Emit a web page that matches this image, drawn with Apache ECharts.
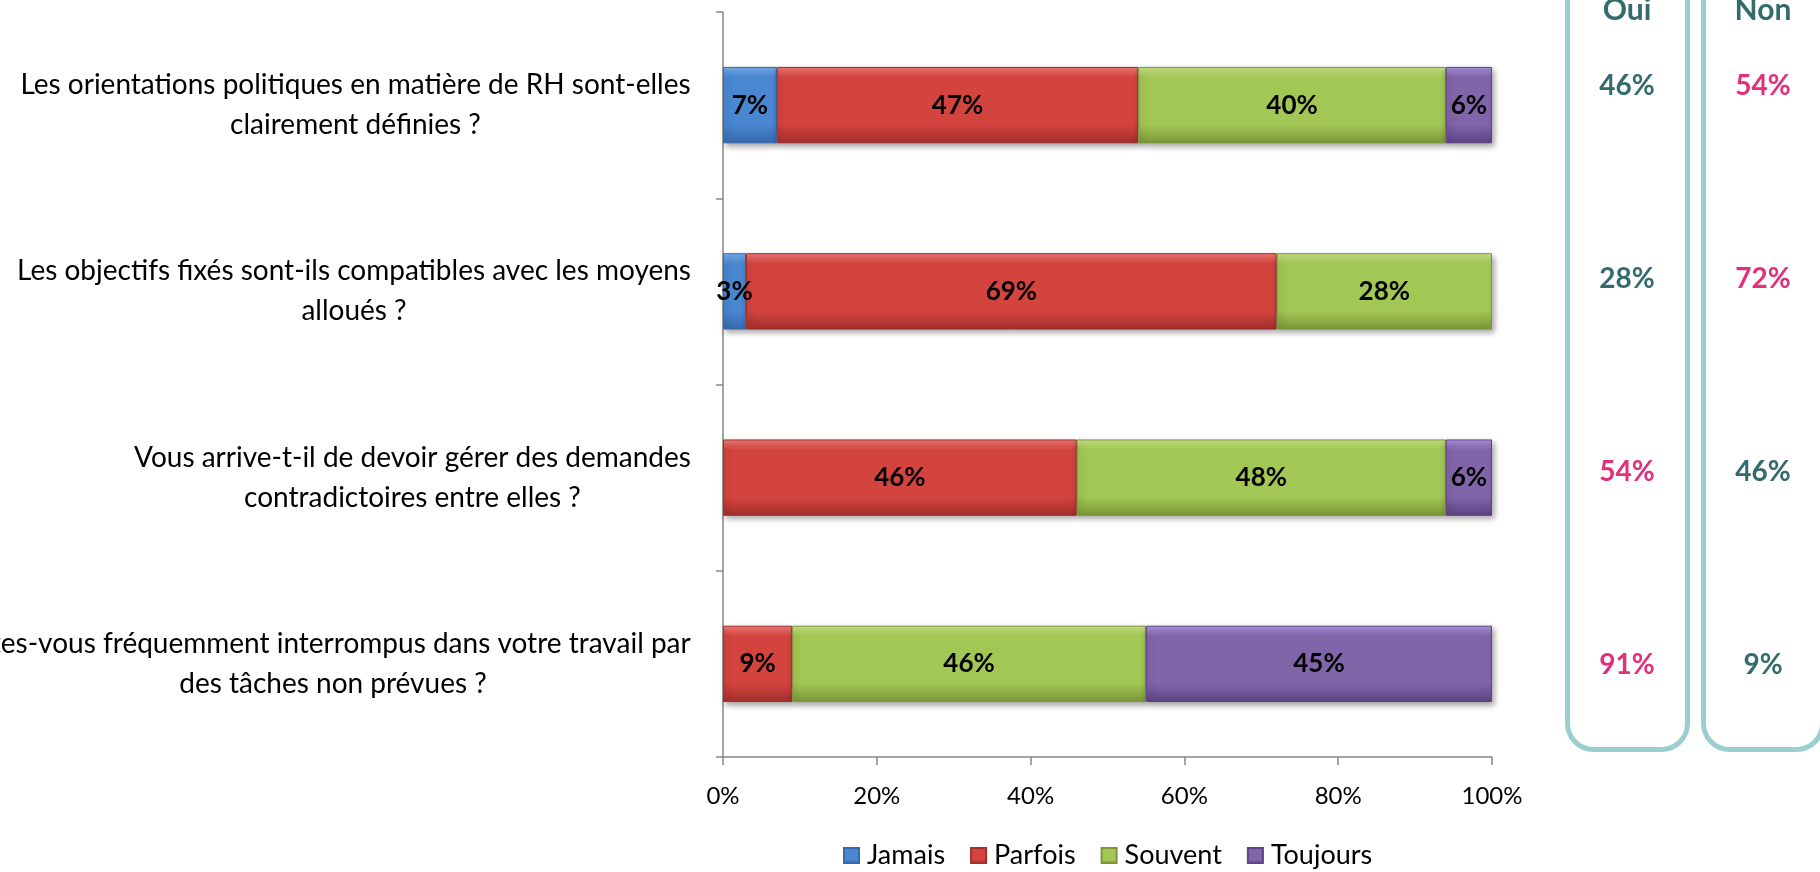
<!DOCTYPE html>
<html>
<head>
<meta charset="utf-8">
<script src="https://cdn.jsdelivr.net/npm/echarts@6/dist/echarts.min.js"></script>
<style>
  html, body { margin: 0; padding: 0; background: #fff; }
  #chart { width: 1820px; height: 872px; }
</style>
</head>
<body>
<div id="chart"></div>
<script>
// questions (top to bottom)
const questions = [
  'Les orientations politiques en matière de RH sont-elles\nclairement définies ?',
  'Les objectifs fixés sont-ils compatibles avec les moyens\nalloués ?',
  'Vous arrive-t-il de devoir gérer des demandes\ncontradictoires entre elles ?',
  'Êtes-vous fréquemment interrompus dans votre travail par\ndes tâches non prévues ?'
];
const seriesNames = ['Jamais', 'Parfois', 'Souvent', 'Toujours'];

// % de réponses par question
const jamais   = [7, 3, 0, 0];
const parfois  = [47, 69, 46, 9];
const souvent  = [40, 28, 48, 46];
const toujours = [6, 0, 6, 45];

// colonnes de droite
const answerCols = ['Oui', 'Non'];
const oui = [46, 28, 54, 91];
const non = [54, 72, 46, 9];

const FONT = 'Lato';
const LABEL_SIZE = 28;

// bevel-ish gradients (light, mid, dark)
const palette = [
  ['#74aef0', '#4a87d1', '#3569ad'],
  ['#f47a76', '#d4443f', '#a22f2b'],
  ['#c9e585', '#a3c755', '#7b9738'],
  ['#ae92de', '#8165a9', '#5c4484']
];
function grad(c) {
  return new echarts.graphic.LinearGradient(0, 0, 0, 1, [
    { offset: 0, color: c[0] },
    { offset: 0.14, color: c[1] },
    { offset: 0.75, color: c[1] },
    { offset: 1, color: c[2] }
  ]);
}

// width of each question label so its lines centre on each other
const ctx = document.createElement('canvas').getContext('2d');
ctx.font = LABEL_SIZE + 'px ' + FONT;
const rich = {};
questions.forEach(function (q, i) {
  const w = Math.max.apply(null, q.split('\n').map(function (l) { return ctx.measureText(l).width; }));
  rich['q' + i] = {
    width: Math.ceil(w) + 2, align: 'center',
    fontFamily: FONT, fontSize: LABEL_SIZE, lineHeight: 40, color: '#000'
  };
});

const values = [jamais, parfois, souvent, toujours];
const barSeries = seriesNames.map(function (name, k) {
  return {
    name: name,
    type: 'bar',
    stack: 'total',
    barWidth: '41%',
    xAxisIndex: 0,
    yAxisIndex: 0,
    data: values[k].map(function (v) { return v === 0 ? '-' : v; }),
    itemStyle: {
      color: grad(palette[k]),
      borderColor: palette[k][2],
      borderWidth: 1,
      shadowColor: 'rgba(0,0,0,0.35)',
      shadowBlur: 6,
      shadowOffsetX: 2,
      shadowOffsetY: 3
    },
    label: {
      show: true,
      position: 'inside',
      fontFamily: FONT,
      fontWeight: 'bold',
      fontSize: 26,
      color: '#000',
      formatter: function (p) { return p.value ? p.value + '%' : ''; }
    }
  };
});

const TEAL = '#346b6b';
const PINK = '#e2307a';
function answerSeries(col, arr) {
  return {
    name: col,
    type: 'scatter',
    xAxisIndex: 1,
    yAxisIndex: 1,
    symbolSize: 1,
    itemStyle: { color: 'rgba(0,0,0,0)', opacity: 1 },
    data: arr.map(function (v, i) {
      return {
        value: [col, i, v],
        label: { color: v > 50 ? PINK : TEAL }
      };
    }),
    label: {
      show: true,
      position: 'inside',
      fontFamily: FONT,
      fontWeight: 'bold',
      fontSize: 28,
      formatter: function (p) { return p.value[2] + '%'; }
    }
  };
}

const chart = echarts.init(document.getElementById('chart'));
chart.setOption({
  animation: false,
  legend: {
    data: seriesNames,
    left: 838,
    top: 837,
    itemWidth: 15,
    itemHeight: 15,
    itemGap: 25,
    icon: 'rect',
    textStyle: { fontFamily: FONT, fontSize: 27, color: '#000', padding: [0, 0, 0, 3] }
  },
  grid: [
    { left: 723, right: 328, top: 12, bottom: 115, outerBoundsMode: 'none' },
    { left: 1559, width: 272, top: -10, height: 771, outerBoundsMode: 'none' }
  ],
  xAxis: [
    {
      type: 'value',
      gridIndex: 0,
      min: 0,
      max: 100,
      interval: 20,
      axisLine: { show: true, lineStyle: { color: '#868686', width: 1.5 } },
      axisTick: { show: true, length: 8, lineStyle: { color: '#868686', width: 1.5 } },
      splitLine: { show: false },
      axisLabel: {
        margin: 27,
        fontFamily: FONT,
        fontSize: 24,
        color: '#000',
        formatter: '{value}%'
      }
    },
    {
      type: 'category',
      gridIndex: 1,
      data: answerCols,
      position: 'top',
      offset: -20,
      axisLine: { show: false },
      axisTick: { show: false },
      axisLabel: {
        margin: 0,
        verticalAlign: 'middle',
        fontFamily: FONT,
        fontWeight: 'bold',
        fontSize: 30,
        color: TEAL
      }
    }
  ],
  yAxis: [
    {
      type: 'category',
      gridIndex: 0,
      inverse: true,
      data: questions,
      axisLine: { show: true, lineStyle: { color: '#868686', width: 1.5 } },
      axisTick: { show: true, length: 7, lineStyle: { color: '#868686', width: 1.5 } },
      axisLabel: {
        margin: 31,
        rich: rich,
        formatter: function (value, index) {
          return value.split('\n').map(function (l) { return '{q' + index + '|' + l + '}'; }).join('\n');
        }
      }
    },
    {
      type: 'category',
      gridIndex: 1,
      inverse: true,
      data: questions,
      show: false
    }
  ],
  graphic: [
    {
      type: 'rect',
      shape: { x: 1567.5, y: -40, width: 120, height: 789.5, r: 26 },
      style: { fill: 'none', stroke: '#9bcfcf', lineWidth: 5 }
    },
    {
      type: 'rect',
      shape: { x: 1703.5, y: -40, width: 119, height: 789.5, r: 26 },
      style: { fill: 'none', stroke: '#9bcfcf', lineWidth: 5 }
    }
  ],
  series: barSeries.concat([answerSeries('Oui', oui), answerSeries('Non', non)])
});
</script>
</body>
</html>
